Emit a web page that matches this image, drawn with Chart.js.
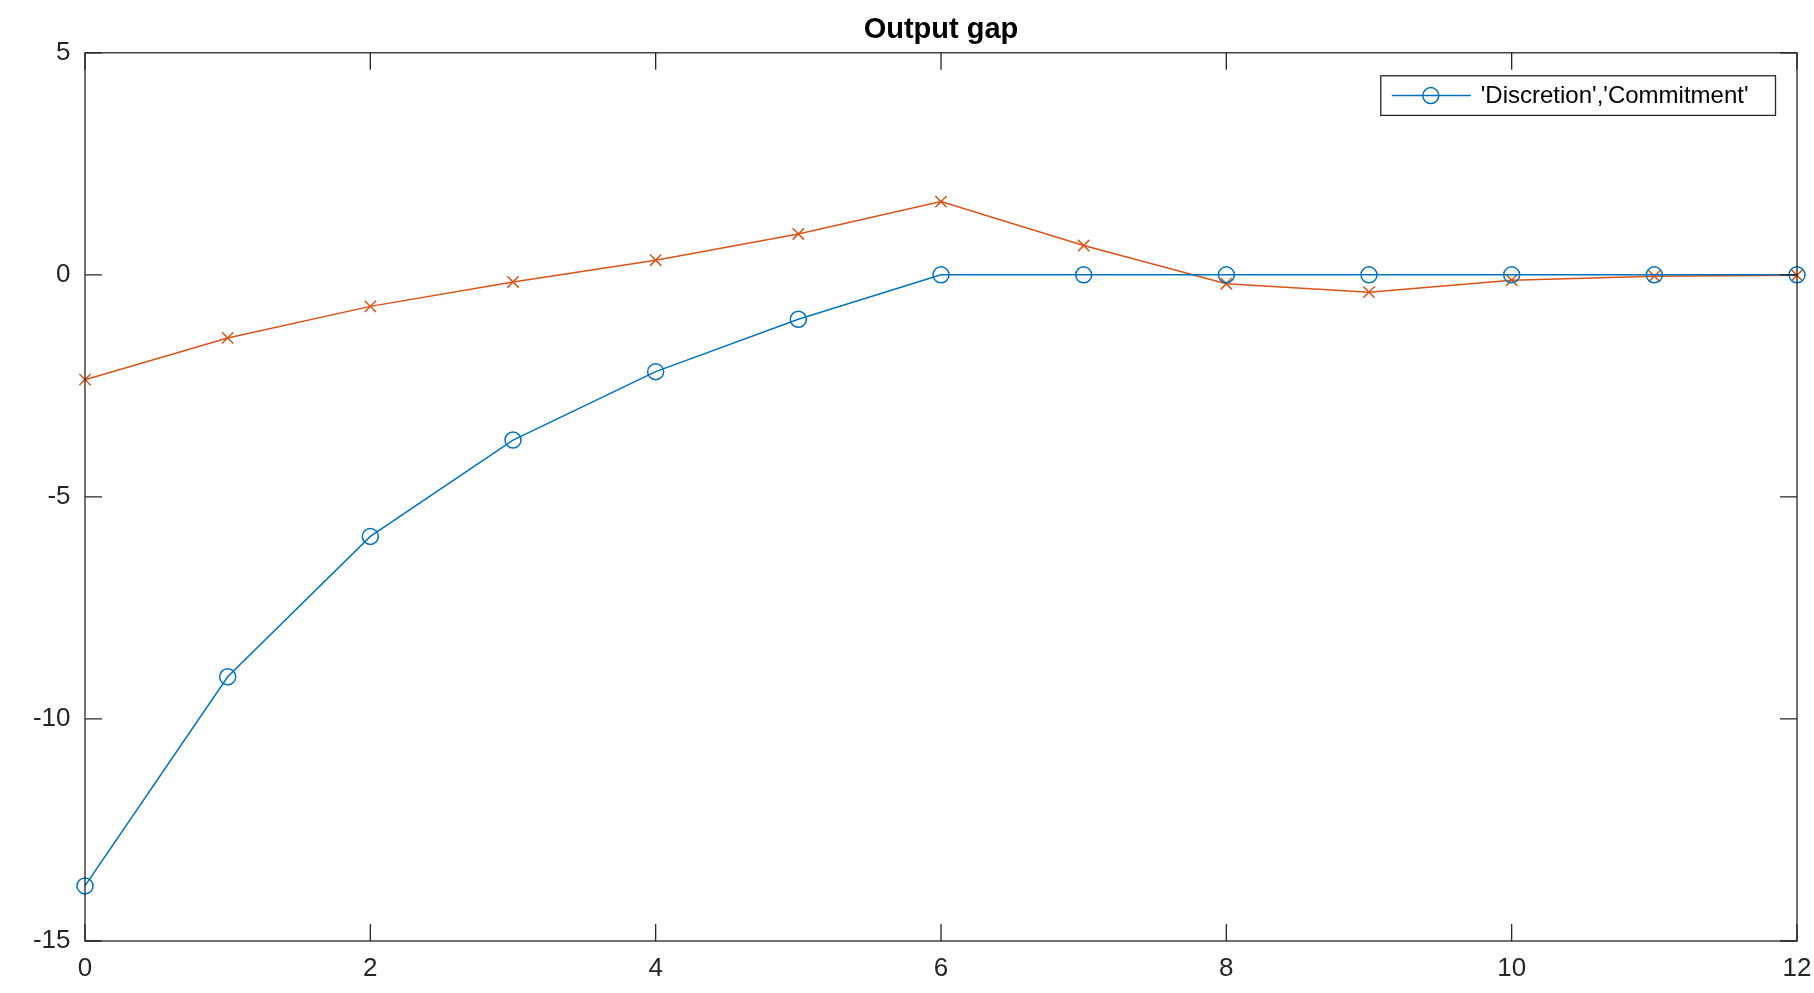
<!DOCTYPE html>
<html>
<head>
<meta charset="utf-8">
<script src="https://cdn.jsdelivr.net/npm/chart.js@4.4.1/dist/chart.umd.min.js"></script>
<style>
  html, body { margin: 0; padding: 0; background: #ffffff; }
  #wrap { width: 1814px; height: 993px; }
</style>
</head>
<body>
<div id="wrap"><canvas id="c" width="1814" height="993"></canvas></div>
<script>
const titleText = 'Output gap';
const legendLabel = "'Discretion','Commitment'";
const periods = [0, 1, 2, 3, 4, 5, 6, 7, 8, 9, 10, 11, 12];
const discretion = [-13.76, -9.05, -5.89, -3.72, -2.18, -1.00, 0, 0, 0, 0, 0, 0, 0];
const commitment = [-2.36, -1.42, -0.71, -0.16, 0.33, 0.92, 1.65, 0.66, -0.20, -0.39, -0.12, -0.03, -0.01];
const xTicks = [0, 2, 4, 6, 8, 10, 12];
const yTicks = [-15, -10, -5, 0, 5];

const BLUE = '#0072BD';
const ORANGE = '#D95319';
const AXIS = '#262626';
const FONT = "'Liberation Sans', Arial, Helvetica, sans-serif";

const boxPlugin = {
  id: 'matlabBox',
  afterDraw(chart) {
    const ctx = chart.ctx;
    const { left, right, top, bottom } = chart.chartArea;
    const xs = chart.scales.x, ys = chart.scales.y;
    ctx.save();
    ctx.strokeStyle = AXIS;
    ctx.lineWidth = 1.3;
    ctx.strokeRect(left, top, right - left, bottom - top);
    const tl = 17;
    ctx.beginPath();
    xTicks.forEach(v => {
      const px = xs.getPixelForValue(v);
      ctx.moveTo(px, bottom); ctx.lineTo(px, bottom - tl);
      ctx.moveTo(px, top); ctx.lineTo(px, top + tl);
    });
    yTicks.forEach(v => {
      const py = ys.getPixelForValue(v);
      ctx.moveTo(left, py); ctx.lineTo(left + tl, py);
      ctx.moveTo(right, py); ctx.lineTo(right - tl, py);
    });
    ctx.stroke();

    // legend (MATLAB shows a single entry)
    const ds = chart.data.datasets[0];
    ctx.font = '24px ' + FONT;
    const w = ctx.measureText(ds.label).width;
    const boxRight = right - 21.5;
    const boxTop = top + 23;
    const boxH = 39.6;
    const textX = boxRight - 27 - w;
    const boxLeft = textX - 100;
    const cy = boxTop + boxH / 2;
    ctx.fillStyle = '#ffffff';
    ctx.fillRect(boxLeft, boxTop, boxRight - boxLeft, boxH);
    ctx.strokeStyle = AXIS;
    ctx.lineWidth = 1.3;
    ctx.strokeRect(boxLeft, boxTop, boxRight - boxLeft, boxH);
    ctx.strokeStyle = ds.borderColor;
    ctx.lineWidth = 1.5;
    ctx.beginPath();
    ctx.moveTo(textX - 89, cy); ctx.lineTo(textX - 10, cy);
    ctx.stroke();
    ctx.beginPath();
    ctx.arc(textX - 50, cy, ds.pointRadius, 0, Math.PI * 2);
    ctx.stroke();
    ctx.fillStyle = '#000000';
    ctx.textAlign = 'left';
    ctx.textBaseline = 'middle';
    ctx.fillText(ds.label, textX, cy + 1);
    ctx.restore();
  }
};

new Chart(document.getElementById('c'), {
  type: 'line',
  data: {
    datasets: [
      {
        label: legendLabel,
        data: periods.map((p, i) => ({ x: p, y: discretion[i] })),
        borderColor: BLUE,
        backgroundColor: 'rgba(0,0,0,0)',
        borderWidth: 1.5,
        pointStyle: 'circle',
        pointRadius: 8,
        pointBorderWidth: 1.5,
        pointBorderColor: BLUE,
        pointBackgroundColor: 'rgba(0,0,0,0)',
        tension: 0,
        clip: false
      },
      {
        label: 'Commitment',
        data: periods.map((p, i) => ({ x: p, y: commitment[i] })),
        borderColor: ORANGE,
        backgroundColor: 'rgba(0,0,0,0)',
        borderWidth: 1.5,
        pointStyle: 'crossRot',
        pointRadius: 8,
        pointBorderWidth: 1.5,
        pointBorderColor: ORANGE,
        tension: 0,
        clip: false
      }
    ]
  },
  options: {
    responsive: false,
    animation: false,
    events: [],
    layout: { padding: { left: 0, right: 17, top: 0, bottom: 0 } },
    plugins: {
      legend: { display: false },
      tooltip: { enabled: false },
      title: {
        display: true,
        fullSize: false,
        text: titleText,
        color: '#000000',
        font: { family: FONT, size: 29, weight: 'bold' },
        padding: { top: 13, bottom: 5 }
      }
    },
    scales: {
      x: {
        type: 'linear',
        min: 0, max: 12,
        grid: { display: false, drawTicks: false },
        border: { display: false },
        afterBuildTicks: s => { s.ticks = xTicks.map(v => ({ value: v })); },
        afterFit: s => { s.height = 52; s.paddingLeft = 0; s.paddingRight = 0; },
        ticks: {
          color: AXIS,
          padding: 12,
          maxRotation: 0,
          font: { family: FONT, size: 26 }
        }
      },
      y: {
        type: 'linear',
        min: -15, max: 5,
        grid: { display: false, drawTicks: false },
        border: { display: false },
        afterBuildTicks: s => { s.ticks = yTicks.map(v => ({ value: v })); },
        afterFit: s => { s.width = 85; s.paddingTop = 0; s.paddingBottom = 0; },
        ticks: {
          color: AXIS,
          padding: 14.5,
          font: { family: FONT, size: 26 },
          callback: v => String(v)
        }
      }
    }
  },
  plugins: [boxPlugin]
});
</script>
</body>
</html>
